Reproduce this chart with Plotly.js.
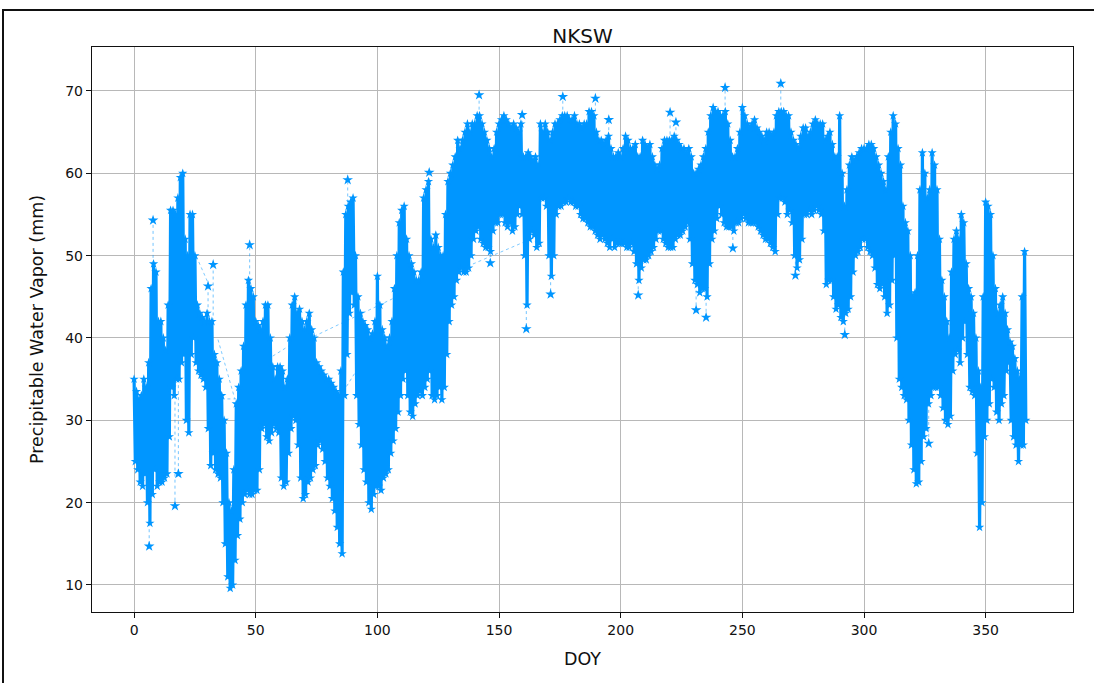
<!DOCTYPE html>
<html>
<head>
<meta charset="utf-8">
<script src="https://cdn.plot.ly/plotly-3.0.1.min.js"></script>
<style>
html,body{margin:0;padding:0;background:#fff;overflow:hidden;}
#chart{position:absolute;left:0;top:0;width:1094px;height:683px;}
#frame{position:absolute;left:2px;top:9px;width:1100px;height:700px;border-left:2px solid #111;border-top:2px solid #111;pointer-events:none;}
</style>
</head>
<body>
<div id="chart"></div>
<div id="frame"></div>
<script>
// Day of year 0..366: daily upper and lower envelope of PWV (mm)
const hi = [
35,33.5,32.5,33,35,34,37,46,49,48,
42,42,40,38.5,44,55.5,55.5,55,57,59.5,
60,52,50,55,55,50,44,43,42.5,42,
43,42,42,38,37,35,33,30,26,20,
19,24,32,34,36,39,44,47,46,45,
42,41.5,41,42,44,44,40,36.5,35,36.5,
36.5,36,34,35,40,44,45,43,43.5,42,
41,42,43,41,40,37,36.5,36,35.5,35,
35,34.5,34,33.5,33,36,48,55,56,56.5,
57,50,45,43,42,41.5,41,40,40.5,42,
47.5,44,41,40,39,40,42,46,50,54,
55.5,56,52,50,49,48,47,47,48,57,
58,59,52,51,52.5,51,50,50,55,59,
60,61,62,64,63,64,65,66,65,66,
66,67,67,66,65,64,63,62,63,65,
66,66.5,67,66.5,66,65.5,66,65.5,65,66,
62,62,62.5,62,61.5,62,61,66,65,66,
65,64,65,66,66,66.5,67,67,67,66.5,
66.5,67,66,66,65.5,66,66,67.5,67.5,67,
65,64,64,63.5,64,64.5,63,62,62,62.5,
62,63,64.5,64,63,63,63.5,62,62,64,
63.5,63,63.5,62,61,60.5,61,63,64,64,
64,64,64.5,64,63.5,63,63,62.5,63,62,
60,60,60.5,61,62,63,65,67,68,67.5,
67.5,67,67,67.5,66,64,62,62,63,65,
68,67,66,65.5,66,66.5,65.5,65,64.5,64,
65,65,64.5,65,67,67.5,67.5,67.5,67,67,
65,64,63.5,63,64.5,65.5,65.5,64.5,65,66,
66.5,66,66,66,64,64.5,65,63.5,62,62,
67,60,56,58,61,62,61.5,62,62.5,63,
63,63,63.5,63.5,63,62,61,60,59,58,
62,65,67,66,63,61,56,54,53,50,
45,45.5,50,58,62.5,60,57,58,62.5,61,
58,52,47,45,42,40,48,52,53,52,
55,54,49,46,45,43,40,36,34,45,
56.5,56,55,50,46,43,44,45,43,41,
39.5,39,37.5,36,35,45,50.5
];
const lo = [
25,24,22.5,22,23.5,20,17.5,21,24,22,
22.5,22.5,23,23.5,28,34,33,35,35,37,
38,30,28.5,38,40,37,36,35.5,35,34,
29,24.5,26,24,23.5,23,20,15,11,9.6,
10,13,16,18,20,21,21.5,21,21,21.5,
21.5,24,29,29.5,28,27.5,28.5,29.5,29,28.5,
23,22,22.5,26,29,30.5,30,27,23,20.5,
21,22.5,23,24,24.5,27,27.5,26.5,25,23,
22,20.5,19,17,15,13.8,33,38,43,45.5,
44,33,29.5,27,24,22.5,20,19.2,21,22,
22,21.5,23,23.5,24,26,27.5,29,31,33,
35,36,33,31,30.5,32,33,33.5,33,34,
35,36,33,32.5,33,34,32.5,34,38,42,
44,45,47,48,48.5,48,48,48.5,50,52,
53,53.5,52,51.5,51,51,50.5,53,54,54,
55,55,54,53.5,54,53,53.5,55,56,55,
50,44,52,53,52.5,51,51.5,57,57,56,
50,47.5,50,55,56,56,56.5,56.5,57,56.5,
56.5,56,56,55,54.5,54.5,54,53.5,53.5,53,
52.5,52,52.5,52,51.5,51,52,51,51.5,51.5,
51.5,51.5,51,51,51.5,50.5,49,47,48.5,49.5,
49.5,50,50.5,51,52,53,53,52,51.5,51,
51,51,52,52.5,52.5,53,53.5,54,52,49,
47,46.5,45.5,46,46,45,49,52,53,54.5,
56,55,54,53.5,53.5,53.5,53,54,54,54.5,
55,54.5,54,54,54,54,53.5,53,52.5,52,
52,51.5,51,50.5,55,57,57,56.5,55,55.5,
54,50,48.5,49.5,52,55,55,55.5,55,55.5,
56,55.5,55,53,46.5,47,47,45,43.5,44,
42.5,42,43,43.5,45,48,50,50.5,51,52,
52,51,50.5,50,48.5,46.5,46,46.5,45,43,
44,47,50,40,35,34,33,32.5,30,27,
24,22.3,22.5,25,28,29,32,33,34,34,
34,33,31.5,30,29.5,30.5,36,38,38.5,37,
40,42,38,34,33.5,33,26,17,20,28,
30,32,35,34,31,30,32,33,36,37,
30,28,27,25,27,27,30
];
// isolated readings that stick out of the daily band
const spikeDay  = [7.8, 6.2, 16.8, 18.2, 30.4, 32.5, 47.5, 87.8, 121.3, 141.8, 146.4, 159.5, 161.2, 171.2, 176.2, 189.6, 195.1, 207.2, 220.3, 222.7, 231, 235.1, 242.9, 246.1, 265.8, 271.8, 292.1, 326.6];
const spikeBase = [49, 17.5, 33, 35, 43, 42, 47, 55, 59, 67, 51, 66, 44, 47.5, 67, 67.5, 64.5, 47, 64, 64.5, 46.5, 45, 67.5, 53, 67.5, 50, 42, 32];
const spikeVal  = [54.3, 14.7, 19.6, 23.5, 46.3, 48.9, 51.3, 59.2, 60.1, 69.5, 49.1, 67.1, 41.1, 45.3, 69.3, 69.1, 66.5, 45.2, 67.4, 66.2, 43.4, 42.5, 70.4, 50.9, 70.9, 47.6, 40.4, 27.2];
// straight connectors across data gaps
const gapDay = [25.6, 30.4, null, 34.5, 41.4, null, 35.9, 42, null, 57, 64, null, 74, 106.5, null, 86, 91.5, null, 137, 163];
const gapVal = [49.9, 46.7, null, 39.8, 32.6, null, 32.6, 32.6, null, 37.8, 39.1, null, 40.2, 44.8, null, 33.5, 36.1, null, 48.7, 52];
const xTicks = [0, 50, 100, 150, 200, 250, 300, 350];
const yTicks = [10, 20, 30, 40, 50, 60, 70];

const BLUE = '#0096ff';
const bx = [], by = [];
for (let d = 0; d < hi.length; d++) {
  bx.push(d, d + 0.5);
  by.push(hi[d], lo[d]);
}
const sx = [], sy = [];
for (let i = 0; i < spikeDay.length; i++) {
  sx.push(spikeDay[i], spikeDay[i], null);
  sy.push(spikeBase[i], spikeVal[i], null);
}

const traces = [
  {x: gapDay, y: gapVal, mode: 'lines', line: {color: 'rgba(0,150,255,0.5)', width: 1, dash: 'dot'}, connectgaps: false, hoverinfo: 'skip'},
  {x: sx, y: sy, mode: 'lines', line: {color: 'rgba(0,150,255,0.55)', width: 1, dash: 'dot'}, connectgaps: false, hoverinfo: 'skip'},
  {x: bx, y: by, mode: 'lines+markers', line: {color: BLUE, width: 3.2}, marker: {symbol: 'star', size: 7, color: BLUE}},
  {x: spikeDay, y: spikeVal, mode: 'markers', marker: {symbol: 'star', size: 8, color: BLUE}}
];

const font = {family: 'DejaVu Sans, sans-serif', size: 14, color: '#111'};
const labelFont = {family: 'DejaVu Sans, sans-serif', size: 17.5, color: '#111'};
const layout = {
  width: 1094, height: 683,
  paper_bgcolor: '#fff', plot_bgcolor: '#fff',
  showlegend: false,
  margin: {l: 92, r: 21, t: 47, b: 71, pad: 0},
  font: font,
  title: {text: 'NKSW', font: {family: 'DejaVu Sans, sans-serif', size: 20, color: '#111'}, x: 0.5, xref: 'paper', y: 1 - 36/683, yref: 'container', yanchor: 'middle'},
  xaxis: {
    range: [-17.3, 385.9], tickvals: xTicks, ticks: 'outside', ticklen: 5, tickcolor: '#111', tickwidth: 1,
    showline: true, mirror: true, linecolor: '#111', linewidth: 1.2,
    showgrid: true, gridcolor: '#b8b8b8', gridwidth: 1, zeroline: false,
    tickfont: font, title: {text: 'DOY', font: labelFont, standoff: 15}
  },
  yaxis: {
    range: [6.72, 75.34], tickvals: yTicks, ticks: 'outside', ticklen: 5, tickcolor: '#111', tickwidth: 1,
    showline: true, mirror: true, linecolor: '#111', linewidth: 1.2,
    showgrid: true, gridcolor: '#b8b8b8', gridwidth: 1, zeroline: false,
    tickfont: font, title: {text: 'Precipitable Water Vapor (mm)', font: labelFont, standoff: 17}
  }
};
Plotly.newPlot('chart', traces, layout, {staticPlot: true, displayModeBar: false});
</script>
</body>
</html>
